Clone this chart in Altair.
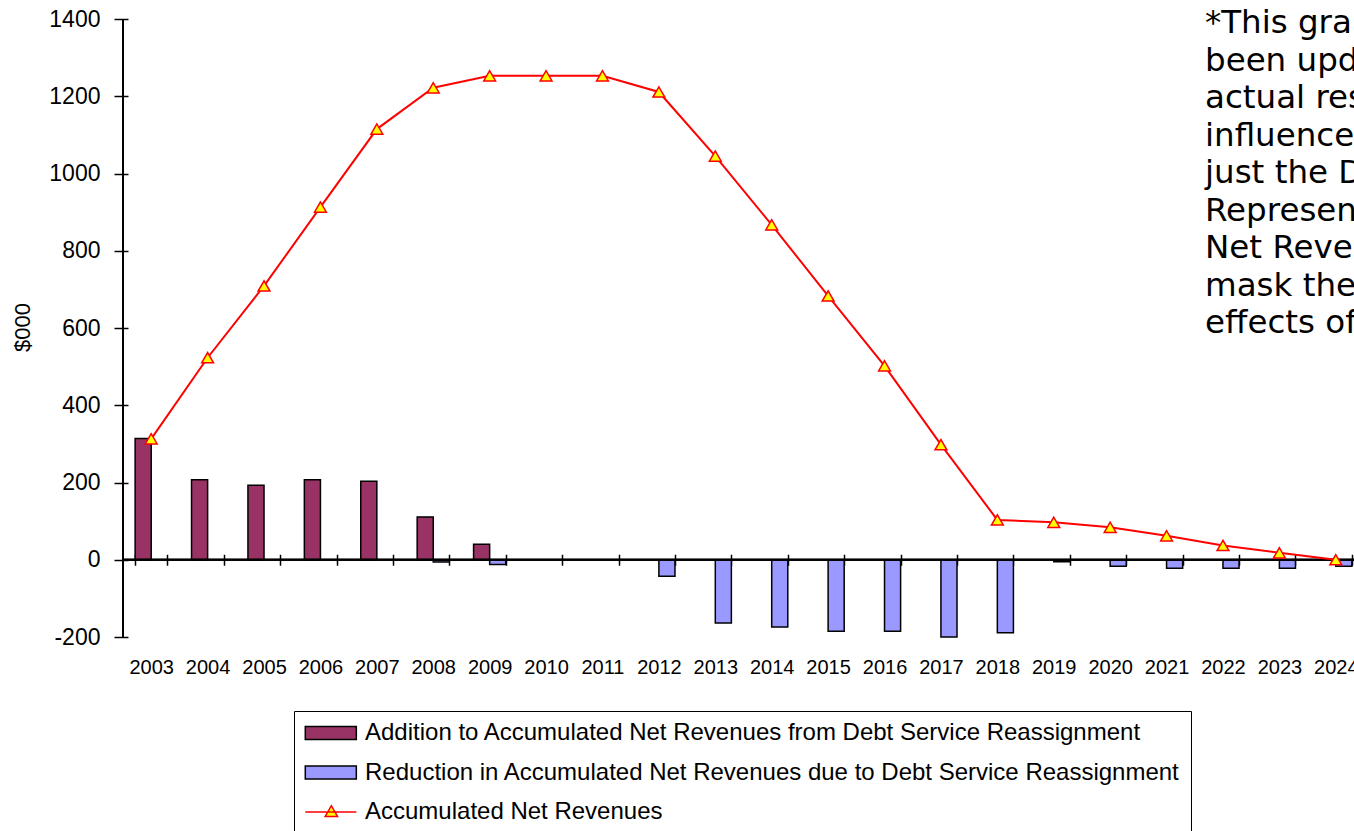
import altair as alt
import pandas as pd

# ---- data ($000) ----
years = [str(y) for y in range(2003, 2025)]
additions = [314, 207, 193, 207, 203, 111, 40, 0, 0, 0, 0, 0, 0, 0, 0, 0, 0, 0, 0, 0, 0, 0]
reductions = [0, 0, 0, 0, 0, -6, -12, 0, 0, -43, -164, -174, -185, -185, -200, -189,
              -5, -17, -22, -22, -22, -17]
accumulated = [313, 523, 709, 913, 1115, 1222, 1253, 1253, 1253, 1211, 1045, 867,
               683, 502, 298, 103, 97, 84, 62, 37, 18, 0]

ADD = "Addition to Accumulated Net Revenues from Debt Service Reassignment"
RED = "Reduction in Accumulated Net Revenues due to Debt Service Reassignment"
ACC = "Accumulated Net Revenues"
SERIES = [ADD, RED, ACC]

note_lines = [
    "*This graph has",
    "been updated with",
    "actual results that are",
    "influenced by more than",
    "just the Debt Service",
    "Represented Accumulated",
    "Net Revenues may",
    "mask the",
    "effects of the reassignment.",
]

PLUM = "#993366"
PERI = "#9999FF"
LINE_RED = "#FF0000"
YELLOW = "#FFFF00"

bar_rows = []
for yr, a, r in zip(years, additions, reductions):
    if a != 0:
        bar_rows.append({"year": yr, "series": ADD, "value": a})
    if r != 0:
        bar_rows.append({"year": yr, "series": RED, "value": r})
bar_df = pd.DataFrame(bar_rows)
line_df = pd.DataFrame({"year": years, "value": accumulated})
key_df = pd.DataFrame({"series": SERIES})

PLOT_W = 1231
PLOT_H = 618

x_scale = alt.Scale(domain=years, range=[0, 1241], paddingInner=0.43, paddingOuter=0.215)
y_scale = alt.Scale(domain=[-200, 1400], nice=False, zero=False)

# category axis: ticks cross the zero line at band edges, labels sit below the plot
x_axis = alt.Axis(
    title=None, labelAngle=0, labelFont="Liberation Sans", labelFontSize=20,
    labelColor="black", labelPadding=92.5, tickBand="extent", tickSize=11,
    tickWidth=1.5, tickColor="black", domain=False,
    offset=-82.75, grid=False, labelOverlap=False,
)
y_axis = alt.Axis(
    values=list(range(-200, 1401, 200)), labelExpr="'' + datum.value", grid=False,
    domain=False, tickColor="black", tickWidth=1.5, offset=-5,
    tickSize=14, labelFont="Liberation Sans", labelFontSize=23, labelColor="black",
    labelPadding=14, title="$000", titleFont="Liberation Sans", titleFontSize=22,
    titleFontWeight="normal", titleColor="black", titleAngle=270,
    titleX=-106, titleY=308, titleAlign="center", titleBaseline="middle",
)

# legend key shapes: a wide box for the bar series, a line with a triangle for the line series
RECT_PATH = "M-1.53,-0.93H5.76V0.93H-1.53Z"
LINE_PATH = "M-1.53,0H5.76M1.3,0.66L2.19,-0.9L3.08,0.66Z"

legend = alt.Legend(
    title=None, orient="none", legendX=171, legendY=692, direction="vertical",
    strokeColor="black", fillColor="white", padding=10,
    labelFont="Liberation Sans", labelFontSize=24, labelColor="black",
    labelOffset=37, labelLimit=2000, symbolSize=196, rowPadding=15.5,
    symbolStrokeWidth=1.5, symbolOpacity=1,
)

fill_scale = alt.Scale(domain=SERIES, range=[PLUM, PERI, YELLOW])
stroke_scale = alt.Scale(domain=SERIES, range=["black", "black", LINE_RED])
shape_scale = alt.Scale(domain=SERIES, range=[RECT_PATH, RECT_PATH, LINE_PATH])

bars = alt.Chart(bar_df).mark_bar(stroke="black", strokeWidth=1.5).encode(
    x=alt.X("year:N", scale=x_scale, axis=x_axis, sort=years),
    xOffset=alt.XOffset("series:N", scale=alt.Scale(domain=[ADD, RED])),
    y=alt.Y("value:Q", scale=y_scale, axis=y_axis),
    fill=alt.Fill("series:N", scale=fill_scale, legend=legend),
)

# axis lines: the value axis at the left edge and the category line at zero
y_line = alt.Chart(key_df).mark_rule(color="black", strokeWidth=1.8).encode(
    x=alt.value(0)
)
zero_line = alt.Chart(key_df).mark_rule(color="black", strokeWidth=1.8).encode(
    y=alt.datum(0, scale=y_scale)
)

line = alt.Chart(line_df).mark_line(color=LINE_RED, strokeWidth=2).encode(
    x=alt.X("year:N", scale=x_scale, axis=x_axis, sort=years),
    y=alt.Y("value:Q", scale=y_scale, axis=y_axis),
)

points = alt.Chart(line_df).mark_point(
    shape="triangle-up", filled=True, fill=YELLOW, stroke=LINE_RED,
    strokeWidth=1.5, size=140, opacity=1,
).encode(
    x=alt.X("year:N", scale=x_scale, axis=x_axis, sort=years),
    y=alt.Y("value:Q", scale=y_scale, axis=y_axis),
)

# key-only layer: carries the series scales for the legend, draws no marks itself
key = alt.Chart(key_df).mark_point(filled=True, opacity=1, strokeWidth=1.5).encode(
    fill=alt.Fill("series:N", scale=fill_scale, legend=legend),
    stroke=alt.Stroke("series:N", scale=stroke_scale, legend=legend),
    shape=alt.Shape("series:N", scale=shape_scale, legend=legend),
).transform_filter("false")

note = alt.Chart(pd.DataFrame({"k": [0]})).mark_text(
    text=note_lines, align="left", baseline="alphabetic", font="DejaVu Sans",
    fontSize=32.5, lineHeight=37.5, color="black",
).encode(x=alt.value(1082), y=alt.value(14))

chart = alt.layer(bars, zero_line, y_line, line, points, key, note).properties(
    width=PLOT_W, height=PLOT_H,
    autosize=alt.AutoSizeParams(type="none"),
    padding={"left": 123, "top": 19, "right": 0, "bottom": 194},
    background="white",
).configure_view(stroke=None)

chart.save("out.html", embed_options={"renderer": "svg", "actions": False})
